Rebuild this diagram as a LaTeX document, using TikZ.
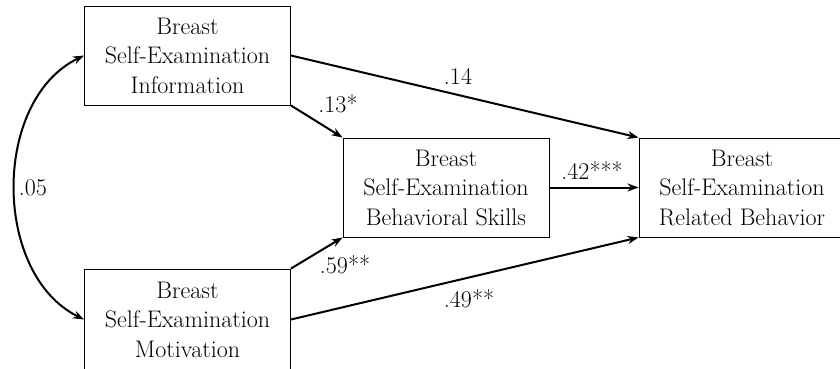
\documentclass[tikz,border=0pt]{standalone}
\usetikzlibrary{arrows.meta}
\begin{document}
\begin{tikzpicture}[x=1pt,y=-1pt,
  box/.style={draw,line width=0.9pt,minimum width=206pt,minimum height=99pt,inner sep=0pt,align=center,
    font=\fontsize{24}{29.5}\selectfont},
  lab/.style={font=\fontsize{24}{27}\selectfont,inner sep=0pt},
  arr/.style={line width=2pt,-{Stealth[length=11pt,width=8pt]}},
  darr/.style={line width=2pt,{Stealth[length=11pt,width=8pt]}-{Stealth[length=11pt,width=8pt]}}]
\useasboundingbox (0,0) rectangle (840,368);
\node[box] (info) at (187.5,55.5) {Breast\\Self-Examination\\Information};
\node[box,minimum height=101pt] (mot) at (187.5,319.5) {Breast\\Self-Examination\\Motivation};
\node[box] (skill) at (446,187.5) {Breast\\Self-Examination\\Behavioral Skills};
\node[box] (beh) at (742,187.5) {Breast\\Self-Examination\\Related Behavior};
\draw[arr] (info.east) -- (beh.north west);
\draw[arr] (info.south east) -- (skill.north west);
\draw[arr] (mot.north east) -- (skill.south west);
\draw[arr] (mot.east) -- (beh.south west);
\draw[arr] (skill.east) -- (beh.west);
\draw[darr] (info.west) .. controls (-8,100) and (-8,274) .. (mot.west);
\node[lab] (l14) at (458,76) {.14};
\node[lab] (l13) at (338,104) {.13*};
\node[lab] (l05) at (33,188) {.05};
\node[lab] (l42) at (592,171) {.42***};
\node[lab] (l59) at (345,265) {.59**};
\node[lab] (l49) at (469,299) {.49**};
\end{tikzpicture}
\end{document}
